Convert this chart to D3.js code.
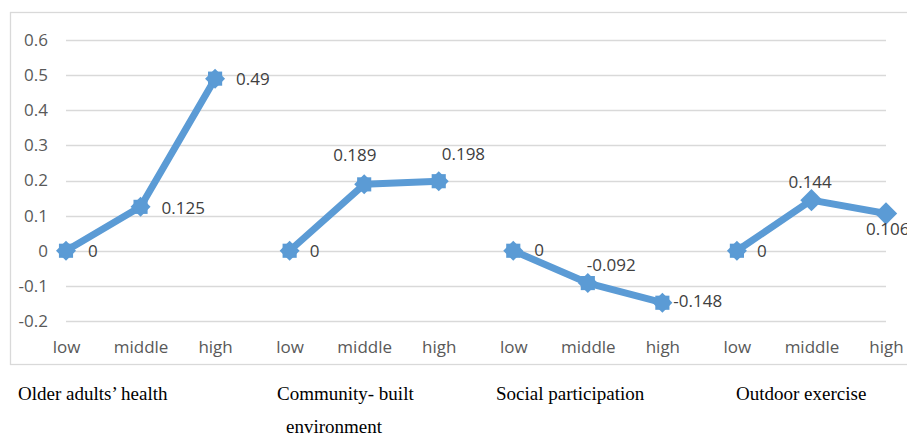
<!DOCTYPE html>
<html>
<head>
<meta charset="utf-8">
<script src="https://cdn.jsdelivr.net/npm/d3@7"></script>
<style>
  body { margin: 0; background: #fff; }
  svg { display: block; }
</style>
</head>
<body>
<div id="main"></div>
<script>
// Data
const groups = ['Older adults’ health', 'Community- built environment', 'Social participation', 'Outdoor exercise'];
const levels = ['low', 'middle', 'high'];
const healthValues = [0, 0.125, 0.49];
const environmentValues = [0, 0.189, 0.198];
const participationValues = [0, -0.092, -0.148];
const exerciseValues = [0, 0.144, 0.106];
const yTicks = [-0.2, -0.1, 0, 0.1, 0.2, 0.3, 0.4, 0.5, 0.6];

// data label nudges [dx, dy] from each point, as placed in the original
const labelOffsets = [
    [[22, 0], [21, 1], [21, 0]],
    [[20, 0], [-31, -29], [3, -27]],
    [[21, -1], [-1, -18], [11, -2]],
    [[20, 0], [-23, -18], [-20, 16]]
];
// marker shape per point
const markerShape = [
    ['round', 'round', 'round'],
    ['round', 'round', 'round'],
    ['round', 'round', 'round'],
    ['round', 'diamond', 'diamond']
];

const series = [healthValues, environmentValues, participationValues, exerciseValues];

// Size
const w = 907;
const h = 435;
const blue = '#5b9bd5';
const sans = '"Open Sans", sans-serif';
const serif = '"Liberation Serif", serif';

const svg = d3.select('#main')
    .append('svg')
    .attr('width', w)
    .attr('height', h);

// chart border
svg.append('rect')
    .attr('x', 10.5).attr('y', 12.5)
    .attr('width', 910).attr('height', 352)
    .attr('fill', 'none')
    .attr('stroke', '#d9d9d9')
    .attr('stroke-width', 1.3);

const slots = d3.range(groups.length * levels.length);

const xScale = d3.scalePoint()
    .domain(slots)
    .range([66, 886]);

const yScale = d3.scaleLinear()
    .domain([-0.2, 0.6])
    .range([321, 40]);

// gridlines
svg.append('g')
    .selectAll('line')
    .data(yTicks)
    .enter()
    .append('line')
    .attr('x1', 66).attr('x2', 886)
    .attr('y1', (d) => Math.round(yScale(d)) + 0.5)
    .attr('y2', (d) => Math.round(yScale(d)) + 0.5)
    .attr('stroke', '#d9d9d9')
    .attr('stroke-width', 1.3);

// y axis
const yAxis = d3.axisLeft(yScale).tickValues(yTicks).tickFormat((d) => String(+d.toFixed(1))).tickSize(0).tickPadding(0);
const yG = svg.append('g').attr('transform', 'translate(48,0)').call(yAxis);
yG.select('.domain').remove();
yG.selectAll('text')
    .attr('fill', '#595959')
    .style('font-family', sans)
    .style('font-size', '17px');

// x axis (category labels)
const xAxis = d3.axisBottom(xScale).tickFormat((d) => levels[d % 3]).tickSize(0).tickPadding(0);
const xG = svg.append('g').attr('transform', 'translate(0,341)').call(xAxis);
xG.select('.domain').remove();
xG.selectAll('text')
    .attr('fill', '#595959')
    .style('font-family', sans)
    .style('font-size', '17px');

const line = d3.line()
    .x((d) => xScale(d.slot))
    .y((d) => yScale(d.value));

const points = [];
series.forEach((vals, g) => {
    const pts = vals.map((v, i) => ({ slot: g * 3 + i, value: v, off: labelOffsets[g][i], shape: markerShape[g][i] }));
    points.push(...pts);
    svg.append('path')
        .datum(pts)
        .attr('d', line)
        .attr('fill', 'none')
        .attr('stroke', blue)
        .attr('stroke-width', 7)
        .attr('stroke-linejoin', 'round');
});

// markers
const square = d3.symbol().type(d3.symbolSquare);
svg.selectAll('.marker')
    .data(points)
    .enter()
    .append('g')
    .attr('class', 'marker')
    .attr('transform', (d) => `translate(${xScale(d.slot)},${yScale(d.value)})`)
    .each(function (d) {
        const g = d3.select(this);
        if (d.shape === 'diamond') {
            g.append('path')
                .attr('d', square.size(250)())
                .attr('transform', 'rotate(45)')
                .attr('fill', blue);
        } else {
            g.append('path').attr('d', square.size(200)()).attr('fill', blue);
            g.append('path').attr('d', square.size(200)()).attr('fill', blue).attr('transform', 'rotate(45)');
        }
    });

// data labels
svg.selectAll('.dlabel')
    .data(points)
    .enter()
    .append('text')
    .attr('class', 'dlabel')
    .attr('x', (d) => xScale(d.slot) + d.off[0])
    .attr('y', (d) => yScale(d.value) + d.off[1])
    .attr('dy', '0.35em')
    .attr('fill', '#404040')
    .style('font-family', sans)
    .style('font-size', '17px')
    .text((d) => String(d.value));

// group titles under the chart
const titleX = [18, 277, 496, 736];
const titleLines = groups.map((t) => (t === 'Community- built environment' ? ['Community- built', 'environment'] : [t]));
titleLines.forEach((lines, i) => {
    lines.forEach((t, j) => {
        svg.append('text')
            .attr('x', titleX[i] + j * 9)
            .attr('y', 400 + j * 33)
            .attr('fill', '#000')
            .style('font-family', serif)
            .style('font-size', '19px')
            .text(t);
    });
});
</script>
</body>
</html>
